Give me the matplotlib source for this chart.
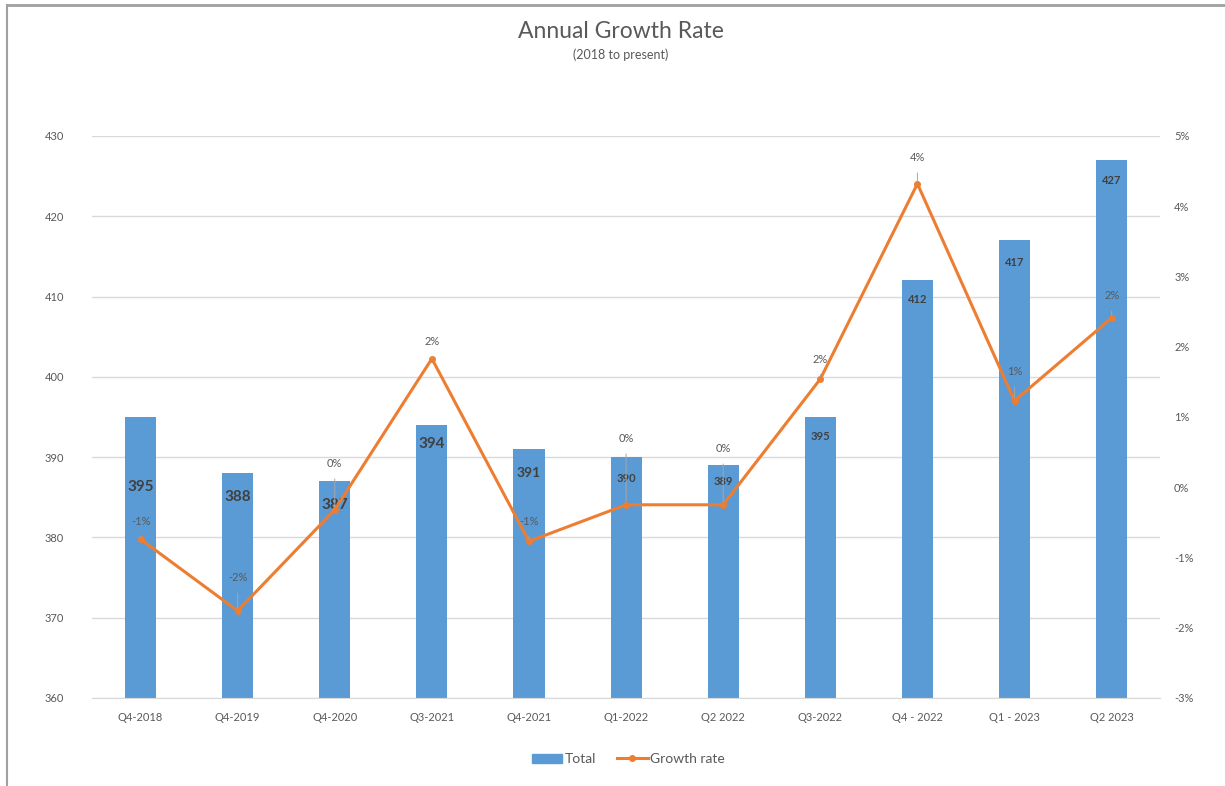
import numpy as np
import matplotlib.pyplot as plt
from matplotlib.lines import Line2D
from matplotlib.patches import Patch

plt.rcParams['font.family'] = ['Lato', 'DejaVu Sans']

quarters = ['Q4-2018', 'Q4-2019', 'Q4-2020', 'Q3-2021', 'Q4-2021', 'Q1-2022',
            'Q2 2022', 'Q3-2022', 'Q4 - 2022', 'Q1 - 2023', 'Q2 2023']
total = [395, 388, 387, 394, 391, 390, 389, 395, 412, 417, 427]
growth = [-0.74, -1.76, -0.32, 1.83, -0.77, -0.25, -0.25, 1.54, 4.32, 1.23, 2.41]

bar_col = '#5B9BD5'
line_col = '#ED7D31'
txt_col = '#595959'
lab_col = '#404040'

# label placement (pixels), tweaked by hand like in the sheet
bar_lab_off = [-70, -24, -24, -19, -24, -21, -16, -20, -19, -22, -20]
bar_lab_size = [11, 11, 11, 11, 10, 8, 8, 8, 8, 8, 8]
gr_lab_off = [(0, 18), (0, 33), (0, 46), (0, 17), (0, 20), (0, 66), (0, 56),
              (0, 20), (0, 26), (0, 29), (0, 22)]

fig = plt.figure(figsize=(12.25, 7.86), dpi=100)
ax = fig.add_axes([0.0751, 0.112, 0.872, 0.715])
x = np.arange(len(quarters))

ax.bar(x, total, width=0.32, color=bar_col, zorder=2)
ax.set_ylim(360, 430)
ax.set_yticks(np.arange(360, 431, 10))
ax.set_xlim(-0.5, len(quarters) - 0.5)
ax.set_xticks(x)
ax.set_xticklabels(quarters)
ax.grid(axis='y', color='#d9d9d9', lw=1, zorder=0)
ax.set_axisbelow(True)
for s in ['top', 'right', 'left']:
    ax.spines[s].set_visible(False)
ax.spines['bottom'].set_color('#d9d9d9')
ax.tick_params(length=0, labelsize=8, colors=txt_col, pad=10)
ax.tick_params(axis='y', pad=20)

for i, v in enumerate(total):
    ax.annotate(str(v), (x[i], v), xytext=(0, bar_lab_off[i] * 0.72),
                textcoords='offset points', ha='center', va='center',
                fontsize=bar_lab_size[i], fontweight='bold', color=lab_col, zorder=5)

ax2 = ax.twinx()
ax2.plot(x, growth, color=line_col, lw=2.2, marker='o', ms=4, zorder=3)
ax2.set_ylim(-3, 5)
ax2.set_yticks(np.arange(-3, 6, 1))
ax2.set_yticklabels(['%d%%' % t for t in range(-3, 6)])
for s in ['top', 'right', 'left', 'bottom']:
    ax2.spines[s].set_visible(False)
ax2.tick_params(length=0, labelsize=8, colors=txt_col, pad=10)

for i, g in enumerate(growth):
    dx, dy = gr_lab_off[i]
    ax2.annotate('%d%%' % round(g), (x[i], g), xytext=(dx, dy * 0.72),
                 textcoords='offset points', ha='center', va='center',
                 fontsize=8, color=txt_col,
                 arrowprops=dict(arrowstyle='-', color='#a6a6a6', lw=0.7,
                                 shrinkA=5, shrinkB=2))

fig.text(0.507, 0.96, 'Annual Growth Rate', ha='center', va='center',
         fontsize=16.5, color=txt_col)
fig.text(0.507, 0.931, '(2018 to present)', ha='center', va='center',
         fontsize=9, color=txt_col)

handles = [Patch(color=bar_col),
           Line2D([], [], color=line_col, lw=2.2, marker='o', ms=4)]
fig.legend(handles, ['Total', 'Growth rate'], loc='center', ncol=2,
           bbox_to_anchor=(0.513, 0.034), frameon=False, fontsize=10,
           labelcolor=txt_col, handlelength=2.2, handletextpad=0.2,
           columnspacing=1.5)

# screenshot frame
fig.add_artist(Line2D([7 / 1225, 7 / 1225], [0, 1 - 5 / 786], transform=fig.transFigure,
                      color='#a0a0a0', lw=1.5))
fig.add_artist(Line2D([7 / 1225, 1], [1 - 5 / 786, 1 - 5 / 786], transform=fig.transFigure,
                      color='#a0a0a0', lw=2))

fig.savefig('out.png', dpi=100)
